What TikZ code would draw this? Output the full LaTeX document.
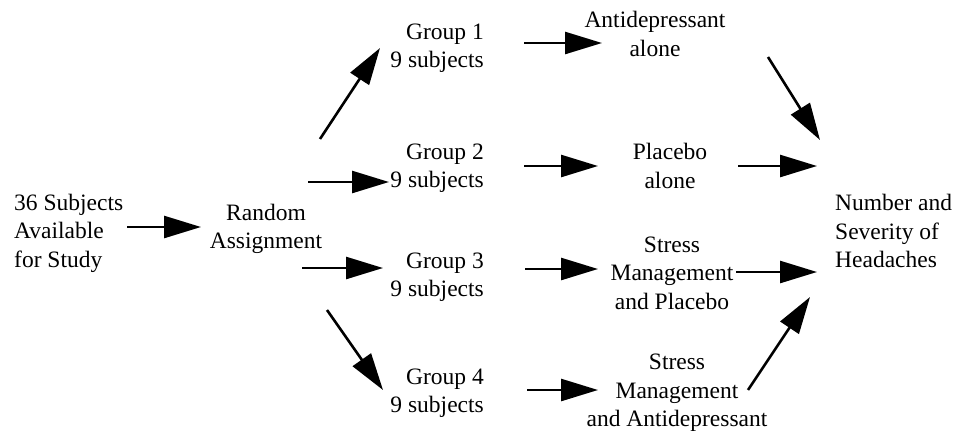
\documentclass[tikz,border=0pt]{standalone}
\usepackage{fontspec}
\setmainfont{Liberation Serif}
\usetikzlibrary{arrows.meta}
\tikzset{
  lbl/.style={inner sep=0pt, font=\fontsize{23.5}{28.5}\selectfont},
  arr/.style={line width=2.6pt, -{Triangle[length=37pt,width=22pt]}}
}
\begin{document}
\begin{tikzpicture}[x=1pt,y=-1pt]
\useasboundingbox (0,0) rectangle (955,434);
% text nodes
\node[lbl, align=left, anchor=west] (src) at (14,233) {36 Subjects\\Available\\for Study};
\node[lbl, align=center] (rand) at (266,229) {Random\\Assignment};
\node[lbl, align=right, anchor=east] (g1) at (484,48) {Group 1\\9 subjects};
\node[lbl, align=right, anchor=east] (g2) at (484,168) {Group 2\\9 subjects};
\node[lbl, align=right, anchor=east] (g3) at (484,277) {Group 3\\9 subjects};
\node[lbl, align=right, anchor=east] (g4) at (484,393) {Group 4\\9 subjects};
\node[lbl, align=center] (t1) at (655,34) {Antidepressant\\alone};
\node[lbl, align=center] (t2) at (670,166) {Placebo\\alone};
\node[lbl, align=center] (t3) at (672,273) {Stress\\Management\\and Placebo};
\node[lbl, align=center] (t4) at (677,393) {Stress\\Management\\and Antidepressant};
\node[lbl, align=left, anchor=west] (out) at (835,231) {Number and\\Severity of\\Headaches};
% connector end points
\coordinate (a0s) at (127,227); \coordinate (a0e) at (201,227);
\coordinate (a1s) at (320,139); \coordinate (a1e) at (380,48);
\coordinate (a2s) at (308,182); \coordinate (a2e) at (389,182);
\coordinate (a3s) at (302,268); \coordinate (a3e) at (383,268);
\coordinate (a4s) at (327,310); \coordinate (a4e) at (383,390);
\coordinate (b1s) at (524,43);  \coordinate (b1e) at (602,43);
\coordinate (b2s) at (524,166); \coordinate (b2e) at (598,166);
\coordinate (b3s) at (525,269); \coordinate (b3e) at (598,269);
\coordinate (b4s) at (527,390); \coordinate (b4e) at (598,390);
\coordinate (c1s) at (768,57);  \coordinate (c1e) at (820,140);
\coordinate (c2s) at (738,166); \coordinate (c2e) at (817,166);
\coordinate (c3s) at (736,272); \coordinate (c3e) at (817,272);
\coordinate (c4s) at (748,390); \coordinate (c4e) at (810,297);
% connectors
\draw[arr] (a0s) -- (a0e);
\draw[arr] (a1s) -- (a1e);
\draw[arr] (a2s) -- (a2e);
\draw[arr] (a3s) -- (a3e);
\draw[arr] (a4s) -- (a4e);
\draw[arr] (b1s) -- (b1e);
\draw[arr] (b2s) -- (b2e);
\draw[arr] (b3s) -- (b3e);
\draw[arr] (b4s) -- (b4e);
\draw[arr] (c1s) -- (c1e);
\draw[arr] (c2s) -- (c2e);
\draw[arr] (c3s) -- (c3e);
\draw[arr] (c4s) -- (c4e);
\end{tikzpicture}
\end{document}
